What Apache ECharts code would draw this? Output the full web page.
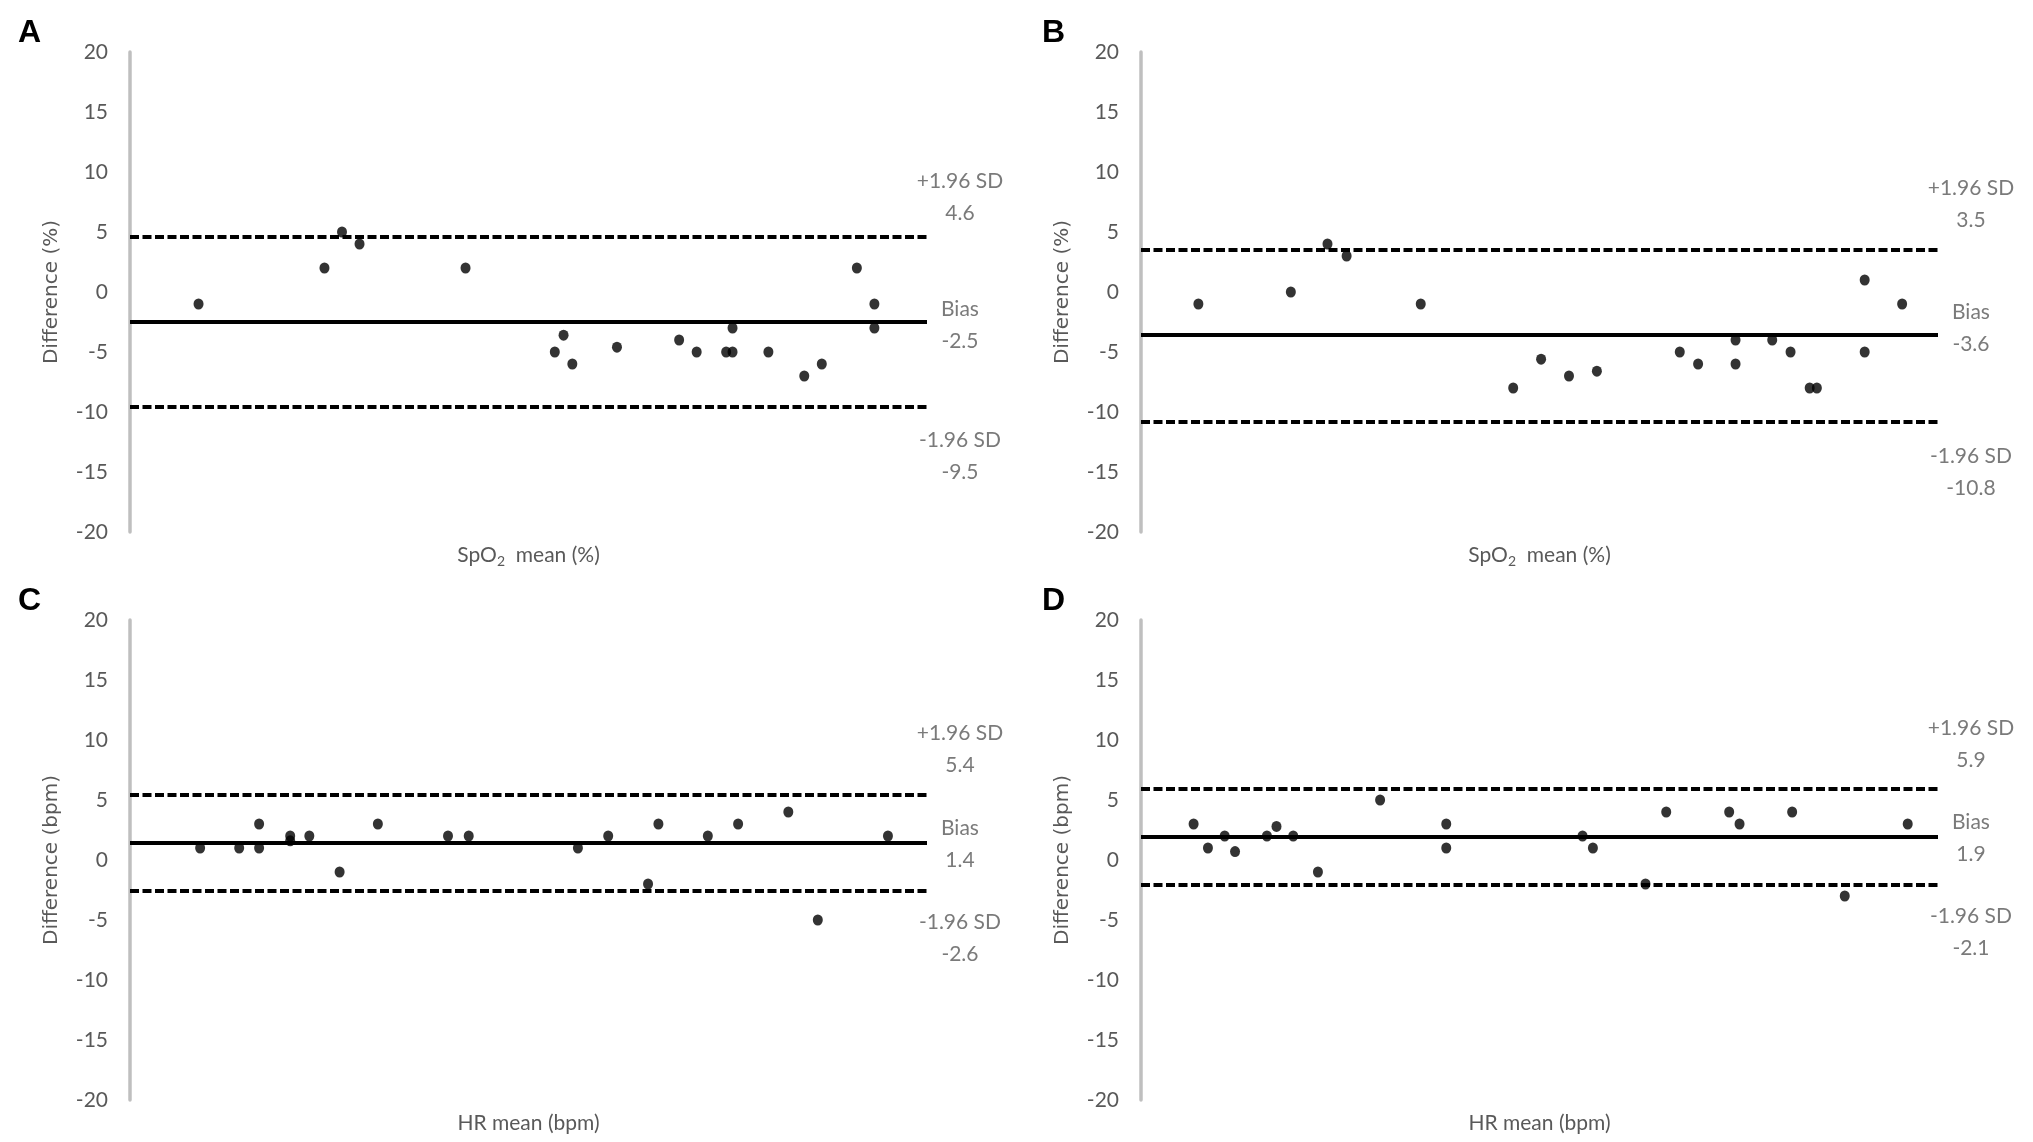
<!DOCTYPE html>
<html>
<head>
<meta charset="utf-8">
<script src="https://cdn.jsdelivr.net/npm/echarts@6/dist/echarts.min.js"></script>
<style>
  html, body { margin: 0; padding: 0; background: #fff; }
  #chart { width: 2033px; height: 1142px; }
</style>
</head>
<body>
<div id="chart"></div>
<script>
// panel letters and axis titles
const panelLetters = ["A", "B", "C", "D"];
const yTitles = ["Difference (%)", "Difference (%)", "Difference (bpm)", "Difference (bpm)"];
const xTitles = ["spo2", "spo2", "HR mean (bpm)", "HR mean (bpm)"];
const yTicks = { min: -20, max: 20, interval: 5 };

// means are plotted on a hidden axis (0 = y axis, 100 = line end)
const meanA = [8.6, 24.4, 26.6, 28.8, 42.1, 53.3, 54.4, 55.5, 61.1, 68.9, 71.1, 74.8, 75.6, 75.6, 80.1, 84.6, 86.8, 91.2, 93.4, 93.4];
const diffA = [-1, 2, 5, 4, 2, -5, -3.6, -6, -4.6, -4, -5, -5, -3, -5, -5, -7, -6, 2, -1, -3];

const meanB = [7.2, 18.8, 23.4, 25.8, 35.1, 46.7, 50.2, 53.7, 57.2, 67.6, 69.9, 74.6, 74.6, 79.2, 81.5, 83.9, 84.8, 90.8, 90.8, 95.5];
const diffB = [-1, 0, 4, 3, -1, -8, -5.6, -7, -6.6, -5, -6, -4, -6, -4, -5, -8, -8, 1, -5, -1];

const meanC = [8.8, 13.7, 16.2, 16.2, 20.1, 20.1, 22.5, 26.3, 31.1, 39.9, 42.5, 56.2, 60.0, 65.0, 66.3, 72.5, 76.3, 82.6, 86.3, 95.1];
const diffC = [1, 1, 3, 1, 2, 1.6, 2, -1, 3, 2, 2, 1, 2, -2, 3, 2, 3, 4, -5, 2];

const meanD = [6.6, 8.4, 10.5, 11.8, 15.8, 17.0, 19.1, 22.2, 30.0, 38.3, 38.3, 55.4, 56.7, 63.3, 65.9, 73.8, 75.1, 81.7, 88.3, 96.2];
const diffD = [3, 1, 2, 0.7, 2, 2.8, 2, -1, 5, 3, 1, 2, 1, -2, 4, 4, 3, 4, -3, 3];

// bias and limits of agreement
const biasVals = [-2.5, -3.6, 1.4, 1.9];
const upperVals = [4.6, 3.5, 5.4, 5.9];
const lowerVals = [-9.6, -10.8, -2.6, -2.1];
const biasText = ["-2.5", "-3.6", "1.4", "1.9"];
const upperText = ["4.6", "3.5", "5.4", "5.9"];
const lowerText = ["-9.5", "-10.8", "-2.6", "-2.1"];

const means = [meanA, meanB, meanC, meanD];
const diffs = [diffA, diffB, diffC, diffD];

// layout
const grids = [
  { left: 130, top: 52, width: 797, height: 480 },
  { left: 1141, top: 52, width: 797, height: 480 },
  { left: 130, top: 620, width: 797, height: 480 },
  { left: 1141, top: 620, width: 797, height: 480 },
];
const letterPos = [[13, 12], [1037, 12], [13, 580], [1037, 580]];
// vertical offsets of the right-hand notes: upper, bias, lower
const noteDy = [[-40, 3, 49], [-46, -7, 51], [-46, 1, 47], [-45, 1, 47]];

const grey = "#595959";
const narrow = "Lato, Roboto, sans-serif";
const wide = "'DejaVu Sans', Verdana, sans-serif";

let chart = echarts.init(document.getElementById("chart"));

let xAxes = [], yAxes = [], series = [], titles = [];

for (let i = 0; i < 4; i++) {
  titles.push({
    text: panelLetters[i],
    left: letterPos[i][0],
    top: letterPos[i][1],
    textStyle: { fontFamily: "'Liberation Sans', Arial, sans-serif", fontSize: 32, fontWeight: "bold", color: "#000" },
  });

  let xName = xTitles[i] === "spo2" ? "{n|SpO}{s|2}{n|  mean (%)}" : "{n|" + xTitles[i] + "}";
  xAxes.push({
    gridIndex: i,
    type: "value",
    min: 0,
    max: 100,
    axisLine: { show: false },
    axisTick: { show: false },
    axisLabel: { show: false },
    splitLine: { show: false },
    name: xName,
    nameLocation: "middle",
    nameGap: 10,
    nameTextStyle: {
      verticalAlign: "top",
      rich: {
        n: { fontFamily: narrow, fontSize: 21, color: grey, lineHeight: 26, verticalAlign: "middle" },
        s: { fontFamily: narrow, fontSize: 14, color: grey, lineHeight: 14, verticalAlign: "bottom" },
      },
    },
  });

  yAxes.push({
    gridIndex: i,
    type: "value",
    min: yTicks.min,
    max: yTicks.max,
    interval: yTicks.interval,
    axisLine: { show: true, lineStyle: { color: "#bfbfbf", width: 3.5 } },
    axisTick: { show: false },
    splitLine: { show: false },
    axisLabel: { fontFamily: narrow, fontSize: 21, color: grey, margin: 22 },
    name: yTitles[i],
    nameLocation: "middle",
    nameGap: 68,
    nameTextStyle: { fontFamily: wide, fontSize: 20, color: grey },
  });

  let points = means[i].map((m, k) => [m, diffs[i][k]]);
  series.push({
    type: "scatter",
    xAxisIndex: i,
    yAxisIndex: i,
    data: points,
    symbol: "circle",
    symbolSize: [10, 11],
    itemStyle: { color: "#000" },
    silent: true,
    markLine: {
      silent: true,
      symbol: "none",
      animation: false,
      label: { show: false },
      data: [
        { yAxis: biasVals[i], lineStyle: { color: "#000", width: 4, type: "solid" } },
        { yAxis: upperVals[i], lineStyle: { color: "#000", width: 4, type: [9, 3.5] } },
        { yAxis: lowerVals[i], lineStyle: { color: "#000", width: 4, type: [9, 3.5] } },
      ],
    },
  });

  // notes to the right of the lines
  let notes = [
    { value: [100, upperVals[i]], text: "+1.96 SD\n" + upperText[i], dy: noteDy[i][0] },
    { value: [100, biasVals[i]], text: "Bias\n" + biasText[i], dy: noteDy[i][1] },
    { value: [100, lowerVals[i]], text: "-1.96 SD\n" + lowerText[i], dy: noteDy[i][2] },
  ];
  series.push({
    type: "scatter",
    xAxisIndex: i,
    yAxisIndex: i,
    symbolSize: 0.1,
    itemStyle: { color: "rgba(0,0,0,0)" },
    silent: true,
    clip: false,
    data: notes.map((n) => ({
      value: n.value,
      label: {
        show: true,
        formatter: n.text,
        position: [33, n.dy],
        align: "center",
        verticalAlign: "middle",
        lineHeight: 32,
        fontFamily: narrow,
        fontSize: 21,
        color: grey,
      },
    })),
  });
}

let option = {
  backgroundColor: "#fff",
  animation: false,
  title: titles,
  grid: grids,
  xAxis: xAxes,
  yAxis: yAxes,
  series: series,
};
option && chart.setOption(option);
</script>
</body>
</html>
